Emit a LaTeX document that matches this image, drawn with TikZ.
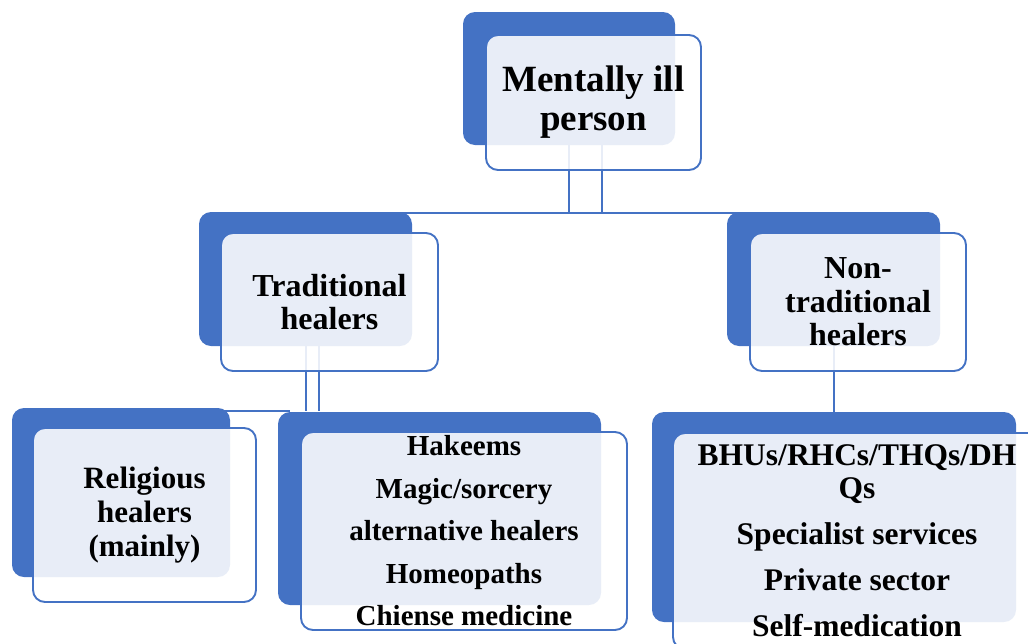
\documentclass[tikz,border=0pt]{standalone}
\usepackage{fontspec}
\setmainfont{Liberation Serif}
\usetikzlibrary{positioning, backgrounds}
\definecolor{hblue}{HTML}{4472C4}

\begin{document}
\begin{tikzpicture}[x=1pt, y=-1pt,
    backbox/.style={rectangle, rounded corners=12pt, fill=hblue, inner sep=0pt},
    frontbox/.style={rectangle, rounded corners=12pt, draw=hblue, line width=1.9pt, fill=white, fill opacity=0.88, text opacity=1, align=center, inner sep=0pt, font=\bfseries#1},
    link/.style={draw=hblue, line width=2pt},
]
\useasboundingbox (0,0) rectangle (1028,643);

\node[backbox, minimum width=212pt, minimum height=133pt] (personb) at (569,78.5) {};
\node[frontbox={\fontsize{37}{39}\selectfont}, minimum width=215pt, minimum height=135pt] (person) at (593.5,102.5) {Mentally ill\\person};

\node[backbox, minimum width=213pt, minimum height=134pt] (tradb) at (305.5,279) {};
\node[frontbox={\fontsize{32}{33.5}\selectfont}, minimum width=217pt, minimum height=138pt] (trad) at (329.5,302) {Traditional\\healers};

\node[backbox, minimum width=213pt, minimum height=134pt] (nontradb) at (833.5,279) {};
\node[frontbox={\fontsize{32}{33.5}\selectfont}, minimum width=216pt, minimum height=138pt] (nontrad) at (858,302) {Non-\\traditional\\healers};

\node[backbox, minimum width=218pt, minimum height=169pt] (religb) at (121,492.5) {};
\node[frontbox={\fontsize{31}{34}\selectfont}, minimum width=223pt, minimum height=174pt] (relig) at (144.5,515) {Religious\\healers\\(mainly)};

\node[backbox, minimum width=323pt, minimum height=193pt] (otherb) at (439.5,508.5) {};
\node[frontbox={\fontsize{29}{42.5}\selectfont}, minimum width=326pt, minimum height=198pt] (other) at (464,531) {Hakeems\\Magic/sorcery\\alternative healers\\Homeopaths\\Chiense medicine};

\node[backbox, minimum width=364pt, minimum height=210pt] (servb) at (834,517) {};
\node[frontbox={\fontsize{31.5}{33}\selectfont}, minimum width=368pt, minimum height=216pt] (serv) at (857,541) {BHUs/RHCs/THQs/DH\\Qs\\[13pt]Specialist services\\[13pt]Private sector\\[13pt]Self-medication};

\begin{scope}[on background layer]
\coordinate (tj) at ([yshift=-1.5pt]tradb.north);
\coordinate (rj) at ([yshift=-3pt]religb.north);
\coordinate (oj) at ([xshift=12pt]otherb.north west);
\draw[link] (personb.south) -- (personb.south |- tj);
\draw[link] ([xshift=33pt]personb.south) -- ([xshift=33pt]personb.south |- tj);
\draw[link] (tj) -- (tj -| nontradb.north);
\draw[link] (tradb.south) -- (tradb.south |- rj);
\draw[link] ([xshift=13pt]tradb.south) -- ([xshift=13pt]tradb.south |- rj);
\draw[link] (rj) -- (rj -| oj);
\draw[link] (nontradb.south) -- (nontradb.south |- servb.north);
\end{scope}

\end{tikzpicture}
\end{document}
